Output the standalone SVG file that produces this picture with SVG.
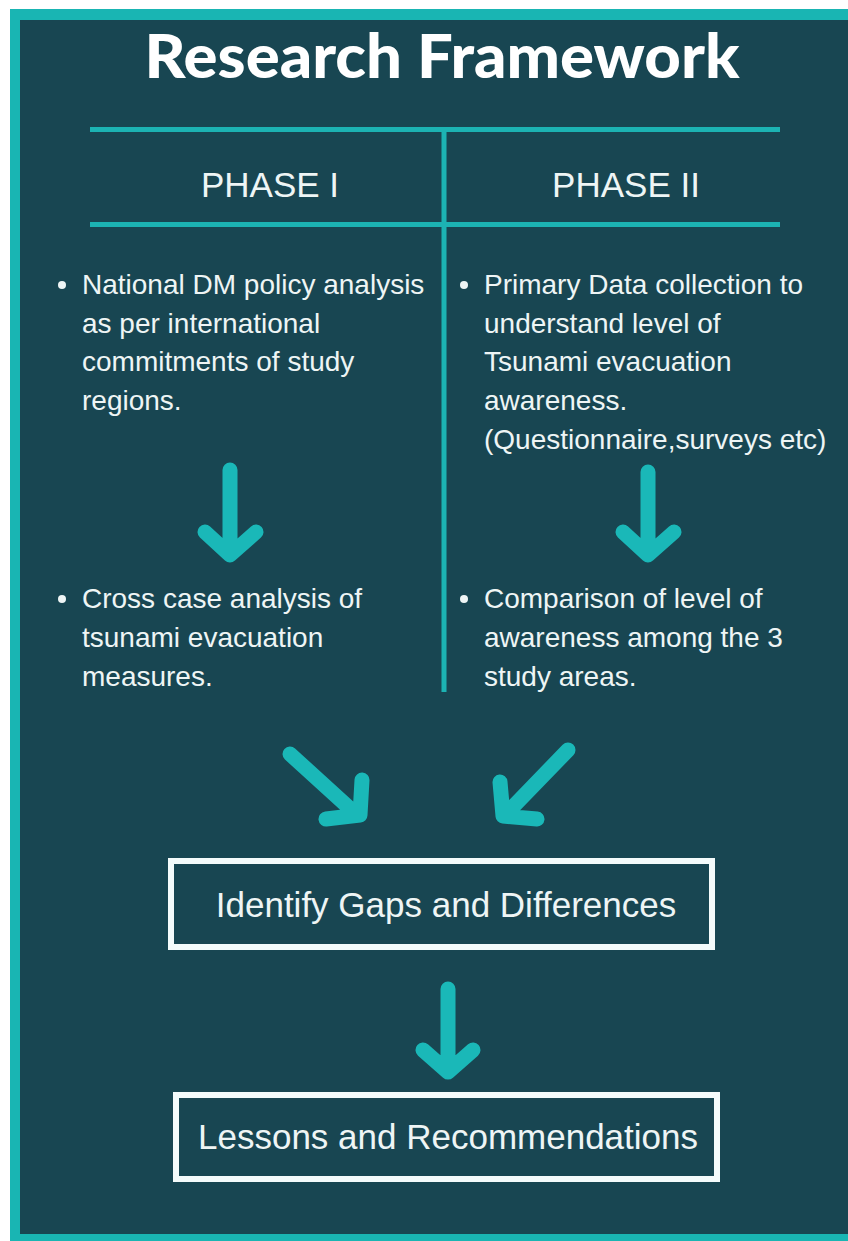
<svg xmlns="http://www.w3.org/2000/svg" width="848" height="1241" viewBox="0 0 848 1241">
<style>
.t{font-family:"Liberation Sans",Arial,sans-serif;fill:#eef5f5;}
.b{font-size:28px;}
.ph{font-size:35px;text-anchor:middle;}
.bx{font-size:35px;text-anchor:middle;}
.ttl{font-family:Lato,"Open Sans",sans-serif;font-weight:900;font-size:61px;fill:#ffffff;text-anchor:middle;}
.ln{stroke:#1cb3b3;stroke-width:5;fill:none;}
.ar{stroke:#1ab8b8;stroke-width:15;stroke-linecap:round;stroke-linejoin:round;fill:none;}
.box{fill:none;stroke:#f4fbfb;stroke-width:6;}
</style>
<rect x="0" y="0" width="848" height="1241" fill="#ffffff"/>
<rect x="10" y="9" width="838" height="1232" fill="#19b5b3"/>
<rect x="20" y="20" width="828" height="1214" fill="#184652"/>
<g id="title"><text class="ttl" x="442" y="78" textLength="595" lengthAdjust="spacingAndGlyphs">Research Framework</text></g>
<g id="table">
<line class="ln" x1="90" y1="129.5" x2="780" y2="129.5"/>
<line class="ln" x1="90" y1="224.5" x2="780" y2="224.5"/>
<line class="ln" x1="444" y1="129" x2="444" y2="692"/>
</g>
<g id="phase1"><text class="t ph" x="270" y="197">PHASE I</text></g>
<g id="phase2"><text class="t ph" x="626" y="197">PHASE II</text></g>
<g id="p1a">
<circle cx="62" cy="285" r="4" fill="#eef5f5"/>
<text class="t b" x="82" y="294">National DM policy analysis</text>
<text class="t b" x="82" y="333">as per international</text>
<text class="t b" x="82" y="371">commitments of study</text>
<text class="t b" x="82" y="410">regions.</text>
</g>
<g id="p2a">
<circle cx="464" cy="285" r="4" fill="#eef5f5"/>
<text class="t b" x="484" y="294">Primary Data collection to</text>
<text class="t b" x="484" y="333">understand level of</text>
<text class="t b" x="484" y="371">Tsunami evacuation</text>
<text class="t b" x="484" y="410">awareness.</text>
<text class="t b" x="484" y="449">(Questionnaire,surveys etc)</text>
</g>
<g id="p1b">
<circle cx="62" cy="599" r="4" fill="#eef5f5"/>
<text class="t b" x="82" y="608">Cross case analysis of</text>
<text class="t b" x="82" y="647">tsunami evacuation</text>
<text class="t b" x="82" y="686">measures.</text>
</g>
<g id="p2b">
<circle cx="464" cy="599" r="4" fill="#eef5f5"/>
<text class="t b" x="484" y="608">Comparison of level of</text>
<text class="t b" x="484" y="647">awareness among the 3</text>
<text class="t b" x="484" y="686">study areas.</text>
</g>
<g id="gaps">
<rect class="box" x="171" y="861" width="541" height="86"/>
<text class="t bx" x="446" y="917">Identify Gaps and Differences</text>
</g>
<g id="lessons">
<rect class="box" x="176" y="1095" width="541" height="84"/>
<text class="t bx" x="448" y="1149">Lessons and Recommendations</text>
</g>
<g id="connectors">
<path class="ar" d="M230 470 V553 M205 532 L230 555 L256 532"/>
<path class="ar" d="M648 472 V553 M623 532 L648 555 L674 532"/>
<path class="ar" d="M448 989 V1070 M423 1050 L448 1072 L473 1050"/>
<path class="ar" d="M290 754 L357 815 M362 780 L360 815 L326 819"/>
<path class="ar" d="M568 750 L505 815 M500 782 L503 816 L537 819"/>
</g>
</svg>
